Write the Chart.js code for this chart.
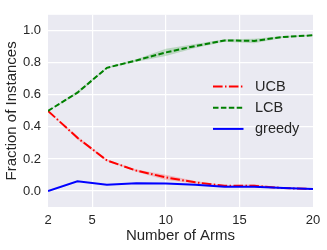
<!DOCTYPE html>
<html>
<head>
<meta charset="utf-8">
<script src="https://cdn.jsdelivr.net/npm/chart.js@4/dist/chart.umd.min.js"></script>
<style>
  html, body { margin: 0; padding: 0; background: #fff; }
  #wrap { width: 327px; height: 250px; }
</style>
</head>
<body>
<div id="wrap"><canvas id="chart" width="327" height="250"></canvas></div>
<script>
// data
const arms = [2, 4, 6, 8, 10, 12, 14, 16, 18, 20];
const ucb = [0.5, 0.332, 0.191, 0.127, 0.085, 0.054, 0.032, 0.032, 0.018, 0.012];
const ucbLow = [0.5, 0.322, 0.186, 0.120, 0.068, 0.046, 0.028, 0.024, 0.015, 0.010];
const ucbHigh = [0.5, 0.342, 0.196, 0.134, 0.102, 0.062, 0.036, 0.042, 0.021, 0.014];
const lcb = [0.5, 0.614, 0.769, 0.815, 0.865, 0.905, 0.94, 0.937, 0.962, 0.972];
const lcbLow = [0.5, 0.604, 0.764, 0.807, 0.842, 0.892, 0.932, 0.922, 0.957, 0.969];
const lcbHigh = [0.5, 0.624, 0.774, 0.823, 0.888, 0.918, 0.948, 0.950, 0.967, 0.975];
const greedy = [0.0, 0.06, 0.039, 0.048, 0.046, 0.039, 0.027, 0.027, 0.018, 0.012];
const legendOrder = ["UCB", "LCB", "greedy"];
const xTicks = [2, 5, 10, 15, 20];
const yTicks = [0, 0.2, 0.4, 0.6, 0.8, 1.0];

const txt = "#262626";
const font = "'Liberation Sans', Arial, sans-serif";

function pts(ys) {
  return arms.map((x, i) => ({ x: x, y: ys[i] }));
}

// grey seaborn background behind the plot
const bgPlugin = {
  id: "bg",
  beforeDraw(chart) {
    const a = chart.chartArea;
    const c = chart.ctx;
    c.save();
    c.fillStyle = "#EAEAF2";
    c.fillRect(a.left, a.top, a.right - a.left, a.bottom - a.top);
    c.restore();
  }
};

// legend inside the plot, like matplotlib
const legendPlugin = {
  id: "innerLegend",
  afterDraw(chart) {
    const c = chart.ctx;
    const sets = chart.data.datasets;
    c.save();
    legendOrder.forEach((name, i) => {
      const d = sets.find(s => s.label === name);
      const y = 86.5 + i * 21.2;
      c.strokeStyle = d.borderColor;
      c.lineWidth = d.borderWidth;
      c.setLineDash(d.borderDash || []);
      c.beginPath();
      c.moveTo(213, y);
      c.lineTo(243.5, y);
      c.stroke();
      c.setLineDash([]);
      c.fillStyle = txt;
      c.font = "14.5px " + font;
      c.textBaseline = "middle";
      c.fillText(d.label, 255, y + 0.5);
    });
    c.restore();
  }
};

const band = (data, color, fill) => ({
  label: "",
  data: pts(data),
  borderWidth: 0,
  pointRadius: 0,
  backgroundColor: color,
  fill: fill,
  order: 5,
  tension: 0
});

new Chart(document.getElementById("chart"), {
  type: "line",
  data: {
    datasets: [
      { label: "greedy", data: pts(greedy), borderColor: "#0000ff", borderWidth: 2,
        pointRadius: 0, fill: false, order: 0 },
      { label: "LCB", data: pts(lcb), borderColor: "#008000", borderWidth: 2,
        borderDash: [5.5, 2.4], pointRadius: 0, fill: false, order: 1 },
      { label: "UCB", data: pts(ucb), borderColor: "#ff0000", borderWidth: 2,
        borderDash: [9.6, 2.4, 1.5, 2.4], pointRadius: 0, fill: false, order: 2 },
      band(ucbHigh, "rgba(255,0,0,0.2)", "+1"),
      band(ucbLow, "rgba(255,0,0,0.2)", false),
      band(lcbHigh, "rgba(0,128,0,0.2)", "+1"),
      band(lcbLow, "rgba(0,128,0,0.2)", false)
    ]
  },
  options: {
    responsive: false,
    animation: false,
    layout: { padding: { top: 10, right: 14, left: 0, bottom: 0 } },
    plugins: {
      legend: { display: false },
      tooltip: { enabled: false }
    },
    scales: {
      x: {
        type: "linear",
        min: 2,
        max: 20,
        afterBuildTicks: s => { s.ticks = xTicks.map(v => ({ value: v })); },
        afterFit: s => { s.height = 43; },
        grid: {
          color: ctx => (ctx.tick && (ctx.tick.value === 2 || ctx.tick.value === 20)) ? "rgba(0,0,0,0)" : "#ffffff",
          lineWidth: 1.2,
          drawTicks: false
        },
        border: { display: false },
        ticks: { color: txt, font: { family: font, size: 13 }, padding: 6, maxRotation: 0 },
        title: { display: true, text: "Number of Arms", color: txt,
          font: { family: font, size: 15 }, padding: { top: 0, bottom: 5 } }
      },
      y: {
        min: -0.1,
        max: 1.1,
        afterBuildTicks: s => { s.ticks = yTicks.map(v => ({ value: v })); },
        afterFit: s => { s.width = 48; },
        grid: { color: "#ffffff", lineWidth: 1.2, drawTicks: false },
        border: { display: false },
        ticks: { color: txt, font: { family: font, size: 13 }, padding: 7,
          callback: v => v.toFixed(1) },
        title: { display: true, text: "Fraction of Instances", color: txt,
          font: { family: font, size: 15 }, padding: { top: 3, bottom: 0 } }
      }
    }
  },
  plugins: [bgPlugin, legendPlugin]
});
</script>
</body>
</html>
